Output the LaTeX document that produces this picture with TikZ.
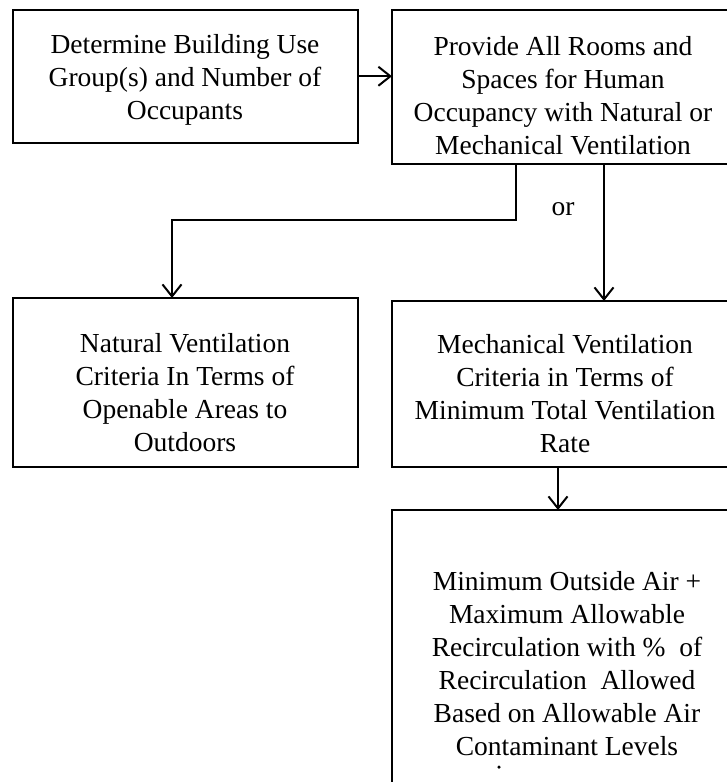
\documentclass[tikz,border=0pt]{standalone}
\usepackage{fontspec}
\setmainfont{Liberation Serif}
\usetikzlibrary{arrows.meta}
\begin{document}
\begin{tikzpicture}[x=1pt,y=-1pt,
  box/.style={draw, line width=2pt, outer sep=0pt, inner sep=0pt},
  txt/.style={align=center, inner sep=0pt, font=\fontsize{27.5}{33}\selectfont},
  arr/.style={line width=2pt, -{Straight Barb[length=12pt,width=19pt,line width=2pt]}},
  lbl/.style={font=\fontsize{27.5}{33}\selectfont},
  speck/.style={circle, fill, inner sep=0pt, minimum size=3.5pt}]
\useasboundingbox (0,0) rectangle (726,782);
\node[box, minimum width=345pt, minimum height=133.5pt] (A) at (185.5,76.25) {};
\node[box, minimum width=342pt, minimum height=154pt] (B) at (563,87) {};
\node[box, minimum width=345pt, minimum height=169pt] (C) at (185.5,382.5) {};
\node[box, minimum width=342pt, minimum height=166pt] (D) at (563,384) {};
\node[box, minimum width=342pt, minimum height=280pt] (E) at (563,650) {};
\node[txt] (tA) at (185,80)
  {Determine Building Use\\Group(s) and Number of\\Occupants};
\node[txt] (tB) at (563,96)
  {Provide All Rooms and\\Spaces for Human\\Occupancy with Natural or\\Mechanical Ventilation};
\node[txt] (tC) at (185,393)
  {Natural Ventilation\\Criteria In Terms of\\Openable Areas to\\Outdoors};
\node[txt] (tD) at (565,394)
  {Mechanical Ventilation\\Criteria in Terms of\\Minimum Total Ventilation\\Rate};
\node[txt] (tE) at (567,664)
  {Minimum Outside Air +\\Maximum Allowable\\Recirculation with \% \ of\\Recirculation \ Allowed\\Based on Allowable Air\\Contaminant Levels};
\node[lbl] (or) at (563,209) {or};
\node[speck] (dot) at (499,767) {};
\coordinate (j1) at (516,220);
\coordinate (j2) at (172,220);
\coordinate (k) at (604,0);
\coordinate (m) at (558,0);
\draw[arr] (A.east) -- (A.east -| B.west);
\draw[arr] (j1 |- B.south) -- (j1) -- (j2) -- (j2 |- C.north);
\draw[arr] (k |- B.south) -- (k |- D.north);
\draw[arr] (m |- D.south) -- (m |- E.north);
\end{tikzpicture}
\end{document}
